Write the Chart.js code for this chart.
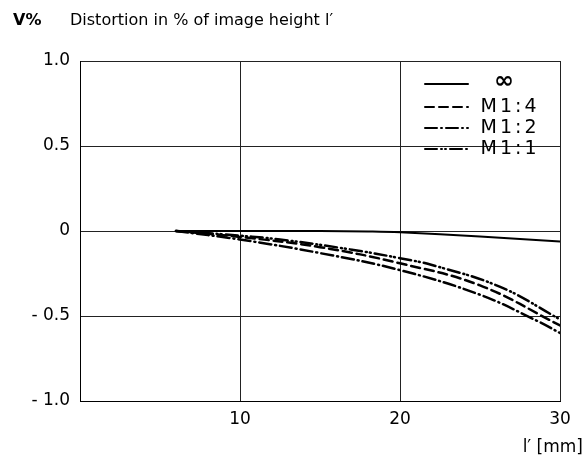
<!DOCTYPE html>
<html><head><meta charset="utf-8">
<script src="https://cdn.jsdelivr.net/npm/chart.js@4/dist/chart.umd.min.js"></script>
<style>html,body{margin:0;padding:0;background:#fff}#wrap{width:588px;height:466px}</style>
</head><body><div id="wrap"><canvas id="c" width="588" height="466"></canvas></div>
<script>
const seriesNames = ['∞', 'M1:4', 'M1:2', 'M1:1'];
const xInf = [6, 10, 15, 18, 20, 25, 30];
const yInf = [0, 0, 0, -0.003, -0.008, -0.033, -0.062];
const x14 = [6, 10, 15, 20, 25, 30];
const y14 = [0, -0.035, -0.095, -0.19, -0.32, -0.555];
const x12 = [6, 10, 15, 20, 25, 28.6, 30];
const y12 = [0, -0.05, -0.13, -0.23, -0.375, -0.53, -0.6];
const x11 = [6, 9, 12.5, 17, 20, 22, 26.3, 30];
const y11 = [0, -0.02, -0.05, -0.11, -0.16, -0.2, -0.33, -0.52];
const xTicks = [10, 20, 30];
const yTickLabels = {'1': '1.0', '0.5': '0.5', '0': '0', '-0.5': '- 0.5', '-1': '- 1.0'};

const pts = (xs, ys) => xs.map((x, i) => ({x, y: ys[i]}));
const FONT = '"DejaVu Sans", sans-serif';
const dashes = [[], [9, 5], [12, 4, 1, 4], [12, 4, 1, 3, 1, 4]];
const datasets = [pts(xInf, yInf), pts(x14, y14), pts(x12, y12), pts(x11, y11)].map((d, i) => ({
  label: seriesNames[i], data: d, borderColor: '#000', borderWidth: i === 0 ? 2 : 2.5,
  borderDash: dashes[i], borderCapStyle: 'round', pointRadius: 0,
  tension: 0.4, fill: false
}));

const decor = {
  id: 'decor',
  afterDraw(chart) {
    const ctx = chart.ctx;
    ctx.save();
    ctx.fillStyle = '#000';
    ctx.textBaseline = 'middle';
    ctx.textAlign = 'left';
    ctx.font = 'bold 16px ' + FONT;
    ctx.fillText('V%', 13, 21);
    ctx.font = '16px ' + FONT;
    ctx.fillText('Distortion in % of image height l′', 70, 21);
    ctx.font = '17px ' + FONT;
    ctx.textAlign = 'right';
    ctx.fillText('l′ [mm]', 583, 448);
    // legend
    const ys = [84, 107, 128, 149];
    ctx.textAlign = 'center';
    chart.data.datasets.forEach((ds, i) => {
      ctx.strokeStyle = '#000';
      ctx.lineWidth = 2;
      ctx.lineCap = 'round';
      ctx.setLineDash(ds.borderDash);
      ctx.beginPath();
      ctx.moveTo(425, ys[i]);
      ctx.lineTo(468, ys[i]);
      ctx.stroke();
      ctx.setLineDash([]);
      ctx.font = (i === 0 ? 'bold 24px ' : '19px ') + FONT;
      ctx.letterSpacing = i === 0 ? '0px' : '3px';
      ctx.fillText(ds.label, i === 0 ? 504 : 510, ys[i] + (i === 0 ? -2 : 0));
    });
    ctx.restore();
  }
};

new Chart(document.getElementById('c'), {
  type: 'line',
  data: {datasets},
  options: {
    responsive: false, animation: false, devicePixelRatio: 1,
    layout: {padding: {top: 61, right: 28, left: 0, bottom: 0}},
    plugins: {legend: {display: false}, tooltip: {enabled: false}},
    scales: {
      x: {
        type: 'linear', min: 0, max: 30,
        afterFit: s => { s.height = 65; },
        afterBuildTicks: s => { s.ticks = [0].concat(xTicks).map(v => ({value: v})); },
        ticks: {color: '#000', font: {family: FONT, size: 17}, padding: 8,
          callback: v => (v === 0 ? '' : String(v)), maxRotation: 0},
        grid: {color: '#222', lineWidth: 1, drawTicks: false},
        border: {color: '#000', width: 1}
      },
      y: {
        min: -1, max: 1,
        afterFit: s => { s.width = 80; },
        ticks: {stepSize: 0.5, color: '#000', font: {family: FONT, size: 17}, padding: 10,
          callback: v => yTickLabels[String(v)] ?? ''},
        grid: {color: '#222', lineWidth: 1, drawTicks: false},
        border: {color: '#000', width: 1}
      }
    }
  },
  plugins: [decor]
});
</script>
</body></html>
